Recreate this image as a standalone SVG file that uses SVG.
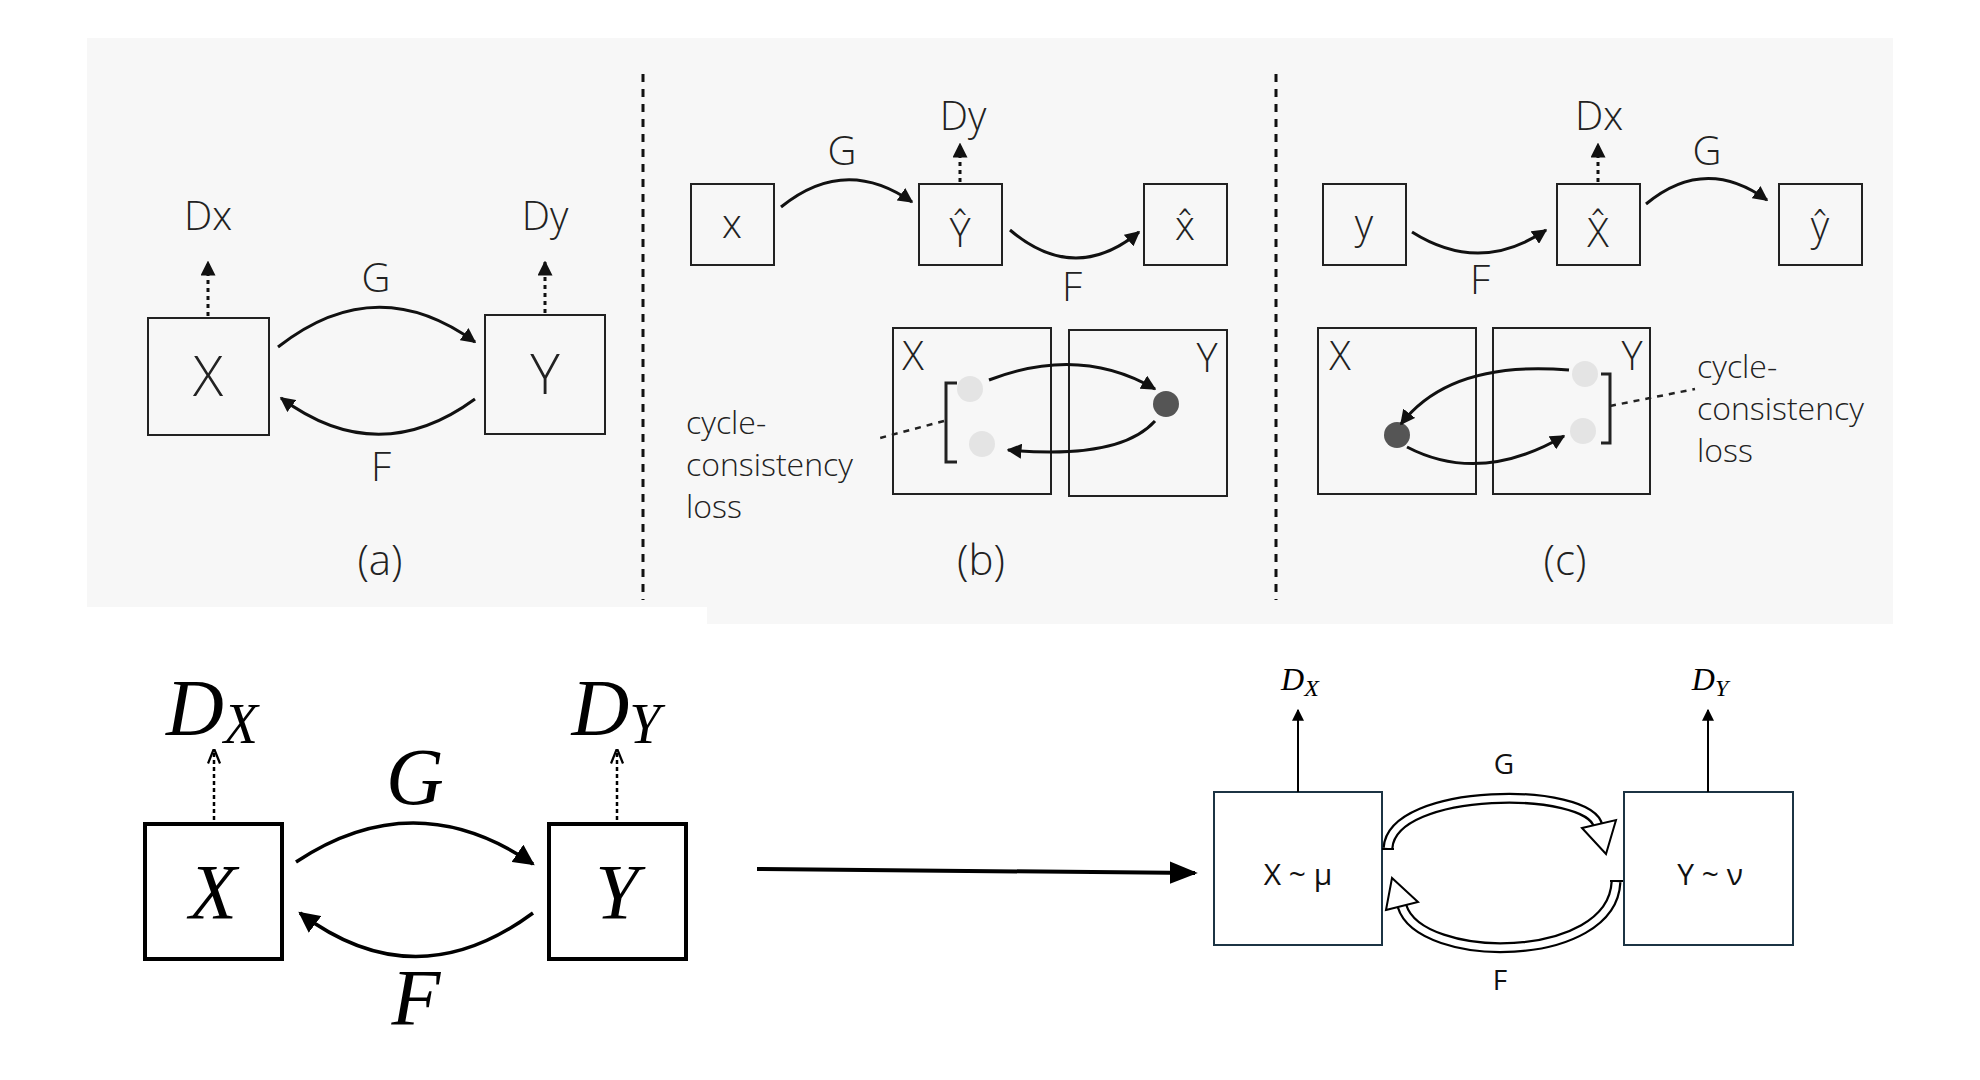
<svg xmlns="http://www.w3.org/2000/svg" width="1980" height="1080" viewBox="0 0 1980 1080">
<defs>
<style>
.t{font-family:"Open Sans","DejaVu Sans",sans-serif;font-weight:300;fill:#222;text-anchor:middle}
.box{fill:#f7f7f7;stroke:#222;stroke-width:2}
.c{fill:none;stroke:#111;stroke-width:3}
.dot{fill:none;stroke:#111;stroke-width:3;stroke-dasharray:4 4}
.m{font-family:"Liberation Serif",serif;font-style:italic;fill:#000;text-anchor:middle}
.bb{fill:#fff;stroke:#000;stroke-width:4}
.rb{fill:#fff;stroke:#1c3444;stroke-width:2}
.s{font-family:"Open Sans","DejaVu Sans",sans-serif;fill:#111;text-anchor:middle}
.h1{fill:none;stroke:#000;stroke-width:11}
.h2{fill:none;stroke:#fff;stroke-width:6.5}
.l{font-family:"Open Sans","DejaVu Sans",sans-serif;font-weight:300;fill:#222;font-size:32px}
</style>
<marker id="ah" viewBox="0 0 10 10" refX="9" refY="5" markerWidth="5" markerHeight="5" orient="auto"><path d="M0,0L10,5L0,10z" fill="#111"/></marker>
<marker id="ah2" viewBox="0 0 10 10" refX="9" refY="5" markerWidth="6" markerHeight="6" orient="auto"><path d="M0,0L10,5L0,10z" fill="#000"/></marker>
<marker id="ao" viewBox="0 0 10 10" refX="9" refY="5" markerWidth="6" markerHeight="6" orient="auto"><path d="M0,1L10,5L0,9" fill="none" stroke="#000" stroke-width="1.5"/></marker>
<marker id="as" viewBox="0 0 10 10" refX="9" refY="5" markerWidth="7" markerHeight="7" orient="auto"><path d="M0,1L10,5L0,9z" fill="#000"/></marker>
</defs>
<rect width="1980" height="1080" fill="#fff"/>
<rect x="87" y="38" width="1806" height="586" fill="#f7f7f7"/>
<rect x="87" y="607" width="620" height="25" fill="#fff"/>

<g id="dividers">
<line x1="643" y1="74" x2="643" y2="600" stroke="#111" stroke-width="3" stroke-dasharray="8 7"/>
<line x1="1276" y1="74" x2="1276" y2="600" stroke="#111" stroke-width="3" stroke-dasharray="8 7"/>
</g>

<!-- (a) -->
<g id="a-X"><rect class="box" x="148" y="318" width="121" height="117"/><text class="t" x="208" y="396" font-size="56">X</text></g>
<g id="a-Y"><rect class="box" x="485" y="315" width="120" height="119"/><text class="t" x="545" y="394" font-size="56">Y</text></g>
<g id="a-labels">
<text class="t" x="208" y="230" font-size="40">Dx</text>
<text class="t" x="545" y="230" font-size="40">Dy</text>
<text class="t" x="376" y="292" font-size="40">G</text>
<text class="t" x="381" y="481" font-size="40">F</text>
<text class="t" x="380" y="575" font-size="42">(a)</text>
</g>
<g id="a-connectors">
<line class="dot" x1="208" y1="316" x2="208" y2="262" marker-end="url(#ah)"/>
<line class="dot" x1="545" y1="313" x2="545" y2="262" marker-end="url(#ah)"/>
<path class="c" d="M278,347 Q376,270 475,342" marker-end="url(#ah)"/>
<path class="c" d="M475,399 Q378,470 281,398" marker-end="url(#ah)"/>
</g>

<!-- (b) -->
<g id="b-x"><rect class="box" x="691" y="184" width="83" height="81"/><text class="t" x="732" y="238" font-size="40">x</text></g>
<g id="b-Yhat"><rect class="box" x="919" y="184" width="83" height="81"/><text class="t" x="960" y="247" font-size="40">Ŷ</text></g>
<g id="b-xhat"><rect class="box" x="1144" y="184" width="83" height="81"/><text class="t" x="1185" y="240" font-size="40">x̂</text></g>
<g id="b-Xset"><rect class="box" x="893" y="328" width="158" height="166"/><text class="t" x="913" y="370" font-size="40">X</text></g>
<g id="b-Yset"><rect class="box" x="1069" y="330" width="158" height="166"/><text class="t" x="1207" y="372" font-size="40">Y</text></g>
<g id="b-dots">
<circle cx="970" cy="389" r="13" fill="#e4e4e4"/>
<circle cx="1166" cy="404" r="13" fill="#555"/>
<circle cx="982" cy="444" r="13" fill="#e4e4e4"/>
</g>
<g id="b-labels">
<text class="t" x="963" y="130" font-size="40">Dy</text>
<text class="t" x="842" y="165" font-size="40">G</text>
<text class="t" x="1072" y="301" font-size="40">F</text>
<text class="l" x="686" y="434">cycle-</text>
<text class="l" x="686" y="476">consistency</text>
<text class="l" x="686" y="518">loss</text>
<text class="t" x="981" y="575" font-size="42">(b)</text>
</g>
<g id="b-connectors">
<line class="dot" x1="960" y1="182" x2="960" y2="144" marker-end="url(#ah)"/>
<path class="c" d="M781,207 Q845,155 912,202" marker-end="url(#ah)"/>
<path class="c" d="M1010,230 Q1075,285 1139,232" marker-end="url(#ah)"/>
<path class="c" d="M989,380 Q1080,345 1155,389" marker-end="url(#ah)"/>
<path class="c" d="M1155,421 Q1120,460 1008,450" marker-end="url(#ah)"/>
<path d="M957,383 L946,383 L946,462 L957,462" fill="none" stroke="#222" stroke-width="3"/>
<line x1="944" y1="421" x2="880" y2="438" stroke="#222" stroke-width="2.5" stroke-dasharray="6 6"/>
</g>

<!-- (c) -->
<g id="c-y"><rect class="box" x="1323" y="184" width="83" height="81"/><text class="t" x="1364" y="238" font-size="40">y</text></g>
<g id="c-Xhat"><rect class="box" x="1557" y="184" width="83" height="81"/><text class="t" x="1598" y="247" font-size="40">X̂</text></g>
<g id="c-yhat"><rect class="box" x="1779" y="184" width="83" height="81"/><text class="t" x="1820" y="240" font-size="40">ŷ</text></g>
<g id="c-Xset"><rect class="box" x="1318" y="328" width="158" height="166"/><text class="t" x="1340" y="370" font-size="40">X</text></g>
<g id="c-Yset"><rect class="box" x="1493" y="328" width="157" height="166"/><text class="t" x="1632" y="370" font-size="40">Y</text></g>
<g id="c-dots">
<circle cx="1585" cy="374" r="13" fill="#e4e4e4"/>
<circle cx="1583" cy="431" r="13" fill="#e4e4e4"/>
<circle cx="1397" cy="435" r="13" fill="#555"/>
</g>
<g id="c-labels">
<text class="t" x="1599" y="130" font-size="40">Dx</text>
<text class="t" x="1707" y="165" font-size="40">G</text>
<text class="t" x="1480" y="294" font-size="40">F</text>
<text class="l" x="1697" y="378">cycle-</text>
<text class="l" x="1697" y="420">consistency</text>
<text class="l" x="1697" y="462">loss</text>
<text class="t" x="1565" y="575" font-size="42">(c)</text>
</g>
<g id="c-connectors">
<line class="dot" x1="1598" y1="182" x2="1598" y2="144" marker-end="url(#ah)"/>
<path class="c" d="M1412,232 Q1480,275 1546,230" marker-end="url(#ah)"/>
<path class="c" d="M1646,204 Q1705,155 1767,200" marker-end="url(#ah)"/>
<path class="c" d="M1569,370 Q1450,360 1401,424" marker-end="url(#ah)"/>
<path class="c" d="M1407,447 Q1480,485 1564,436" marker-end="url(#ah)"/>
<path d="M1601,374 L1610,374 L1610,443 L1601,443" fill="none" stroke="#222" stroke-width="3"/>
<line x1="1610" y1="406" x2="1695" y2="389" stroke="#222" stroke-width="2.5" stroke-dasharray="6 6"/>
</g>

<!-- bottom left -->
<g id="bl-X"><rect class="bb" x="145" y="824" width="137" height="135"/><text class="m" x="213" y="918" font-size="78">X</text></g>
<g id="bl-Y"><rect class="bb" x="549" y="824" width="137" height="135"/><text class="m" x="617" y="918" font-size="78">Y</text></g>
<g id="bl-labels">
<text class="m" x="212" y="735" font-size="80">D<tspan font-size="56" dy="8">X</tspan></text>
<text class="m" x="616" y="735" font-size="80">D<tspan font-size="56" dy="8">Y</tspan></text>
<text class="m" x="415" y="804" font-size="80">G</text>
<text class="m" x="416" y="1025" font-size="80">F</text>
</g>
<g id="bl-connectors">
<line x1="214" y1="820" x2="214" y2="750" stroke="#000" stroke-width="2.5" stroke-dasharray="4 3" marker-end="url(#ao)"/>
<line x1="617" y1="820" x2="617" y2="750" stroke="#000" stroke-width="2.5" stroke-dasharray="4 3" marker-end="url(#ao)"/>
<path d="M296,862 Q415,783 533,864" fill="none" stroke="#000" stroke-width="3.5" marker-end="url(#ah2)"/>
<path d="M533,913 Q415,1000 300,913" fill="none" stroke="#000" stroke-width="3.5" marker-end="url(#ah2)"/>
</g>

<g id="big-arrow">
<line x1="757" y1="869" x2="1195" y2="873" stroke="#000" stroke-width="4" marker-end="url(#as)"/>
</g>

<!-- bottom right -->
<g id="br-X"><rect class="rb" x="1214" y="792" width="168" height="153"/><text class="s" x="1298" y="885" font-size="30">X ~ μ</text></g>
<g id="br-Y"><rect class="rb" x="1624" y="792" width="169" height="153"/><text class="s" x="1710" y="885" font-size="30">Y ~ ν</text></g>
<g id="br-labels">
<text class="m" x="1300" y="690" font-size="32">D<tspan font-size="24" dy="6">X</tspan></text>
<text class="m" x="1710" y="690" font-size="32">D<tspan font-size="24" dy="6">Y</tspan></text>
<text class="s" x="1504" y="774" font-size="28">G</text>
<text class="s" x="1500" y="990" font-size="28">F</text>
</g>
<g id="br-connectors">
<line x1="1298" y1="792" x2="1298" y2="710" stroke="#000" stroke-width="2" marker-end="url(#ah2)"/>
<line x1="1708" y1="792" x2="1708" y2="710" stroke="#000" stroke-width="2" marker-end="url(#ah2)"/>
<path class="h1" d="M1388,848 C1392,786 1590,786 1598,826"/>
<path class="h2" d="M1388,848 C1392,786 1590,786 1598,826"/>
<line x1="1382" y1="849" x2="1394" y2="849" stroke="#000" stroke-width="2"/>
<path d="M1582,828 L1616,820 L1606,854 z" fill="#fff" stroke="#000" stroke-width="2"/>
<path class="h1" d="M1616,882 C1612,965 1420,965 1402,906"/>
<path class="h2" d="M1616,882 C1612,965 1420,965 1402,906"/>
<line x1="1610" y1="881" x2="1623" y2="881" stroke="#000" stroke-width="2"/>
<path d="M1386,910 L1418,902 L1392,878 z" fill="#fff" stroke="#000" stroke-width="2"/>
</g>
</svg>
